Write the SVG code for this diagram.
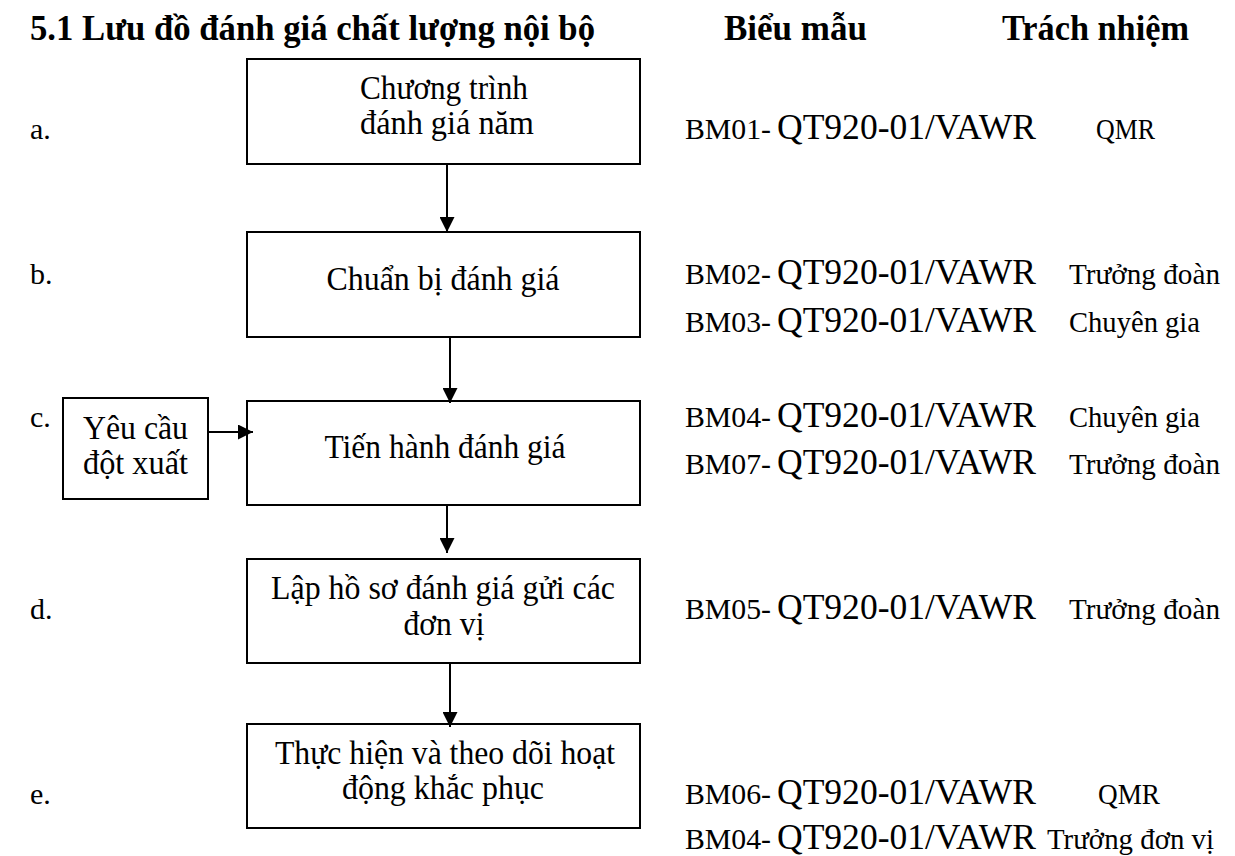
<svg xmlns="http://www.w3.org/2000/svg" width="1235" height="856" viewBox="0 0 1235 856">
<style>
text{font-family:"Liberation Serif","Times New Roman",serif;fill:#000}
.h{font-weight:bold;font-size:36px}
.t{font-size:33px;text-anchor:middle}
.lab{font-size:30px}
.bm{font-size:30px}
.qt{font-size:36px}
.box{fill:#fff;stroke:#000;stroke-width:2}
.con{stroke:#000;stroke-width:2;fill:none}
</style>
<defs>
<marker id="arr" viewBox="0 0 15 15" refX="15" refY="7.5" markerWidth="15" markerHeight="15" markerUnits="userSpaceOnUse" orient="auto">
<path d="M0,0 L15,7.5 L0,15 Z" fill="#000"/>
</marker>
</defs>
<rect width="1235" height="856" fill="#fff"/>
<g id="headers">
<text class="h" x="30" y="40" textLength="565" lengthAdjust="spacingAndGlyphs">5.1 Lưu đồ đánh giá chất lượng nội bộ</text>
<text class="h" x="724" y="40" textLength="143" lengthAdjust="spacingAndGlyphs">Biểu mẫu</text>
<text class="h" x="1002" y="40" textLength="187" lengthAdjust="spacingAndGlyphs">Trách nhiệm</text>
</g>
<g id="step-labels">
<text class="lab" x="30" y="139">a.</text>
<text class="lab" x="30" y="284">b.</text>
<text class="lab" x="30" y="427">c.</text>
<text class="lab" x="30" y="619">d.</text>
<text class="lab" x="30" y="804">e.</text>
</g>
<g id="node-a">
<rect class="box" x="247" y="59" width="393" height="105"/>
<text class="t" x="444" y="99" textLength="168" lengthAdjust="spacingAndGlyphs">Chương trình</text>
<text class="t" x="447" y="134" textLength="174" lengthAdjust="spacingAndGlyphs">đánh giá năm</text>
</g>
<g id="node-b">
<rect class="box" x="247" y="232" width="393" height="105"/>
<text class="t" x="443" y="290" textLength="233" lengthAdjust="spacingAndGlyphs">Chuẩn bị đánh giá</text>
</g>
<g id="node-yeucau">
<rect class="box" x="63" y="398" width="145" height="101"/>
<text class="t" x="135.5" y="439" textLength="105" lengthAdjust="spacingAndGlyphs">Yêu cầu</text>
<text class="t" x="135.5" y="474" textLength="105" lengthAdjust="spacingAndGlyphs">đột xuất</text>
</g>
<g id="node-c">
<rect class="box" x="247" y="401" width="393" height="104"/>
<text class="t" x="445" y="458" textLength="241" lengthAdjust="spacingAndGlyphs">Tiến hành đánh giá</text>
</g>
<g id="node-d">
<rect class="box" x="247" y="559" width="393" height="104"/>
<text class="t" x="443" y="599" textLength="344" lengthAdjust="spacingAndGlyphs">Lập hồ sơ đánh giá gửi các</text>
<text class="t" x="444" y="635" textLength="81" lengthAdjust="spacingAndGlyphs">đơn vị</text>
</g>
<g id="node-e">
<rect class="box" x="247" y="724" width="393" height="104"/>
<text class="t" x="445" y="764" textLength="340" lengthAdjust="spacingAndGlyphs">Thực hiện và theo dõi hoạt</text>
<text class="t" x="443" y="799" textLength="202" lengthAdjust="spacingAndGlyphs">động khắc phục</text>
</g>
<g id="connectors">
<line class="con" x1="447" y1="164" x2="447" y2="232" marker-end="url(#arr)"/>
<line class="con" x1="450" y1="337" x2="450" y2="403" marker-end="url(#arr)"/>
<line class="con" x1="208" y1="432" x2="253" y2="432" marker-end="url(#arr)"/>
<line class="con" x1="447" y1="505" x2="447" y2="553" marker-end="url(#arr)"/>
<line class="con" x1="450" y1="663" x2="450" y2="727" marker-end="url(#arr)"/>
</g>
<g id="forms">
<text class="bm" x="685" y="139" textLength="86" lengthAdjust="spacingAndGlyphs">BM01-</text>
<text class="qt" x="777" y="139" textLength="259" lengthAdjust="spacingAndGlyphs">QT920-01/VAWR</text>
<text class="bm" x="685" y="284" textLength="86" lengthAdjust="spacingAndGlyphs">BM02-</text>
<text class="qt" x="777" y="284" textLength="259" lengthAdjust="spacingAndGlyphs">QT920-01/VAWR</text>
<text class="bm" x="685" y="332" textLength="86" lengthAdjust="spacingAndGlyphs">BM03-</text>
<text class="qt" x="777" y="332" textLength="259" lengthAdjust="spacingAndGlyphs">QT920-01/VAWR</text>
<text class="bm" x="685" y="427" textLength="86" lengthAdjust="spacingAndGlyphs">BM04-</text>
<text class="qt" x="777" y="427" textLength="259" lengthAdjust="spacingAndGlyphs">QT920-01/VAWR</text>
<text class="bm" x="685" y="474" textLength="86" lengthAdjust="spacingAndGlyphs">BM07-</text>
<text class="qt" x="777" y="474" textLength="259" lengthAdjust="spacingAndGlyphs">QT920-01/VAWR</text>
<text class="bm" x="685" y="619" textLength="86" lengthAdjust="spacingAndGlyphs">BM05-</text>
<text class="qt" x="777" y="619" textLength="259" lengthAdjust="spacingAndGlyphs">QT920-01/VAWR</text>
<text class="bm" x="685" y="804" textLength="86" lengthAdjust="spacingAndGlyphs">BM06-</text>
<text class="qt" x="777" y="804" textLength="259" lengthAdjust="spacingAndGlyphs">QT920-01/VAWR</text>
<text class="bm" x="685" y="849" textLength="86" lengthAdjust="spacingAndGlyphs">BM04-</text>
<text class="qt" x="777" y="849" textLength="259" lengthAdjust="spacingAndGlyphs">QT920-01/VAWR</text>
</g>
<g id="responsibility">
<text class="bm" x="1096" y="139" textLength="59" lengthAdjust="spacingAndGlyphs">QMR</text>
<text class="bm" x="1069" y="284" textLength="151" lengthAdjust="spacingAndGlyphs">Trưởng đoàn</text>
<text class="bm" x="1069" y="332" textLength="131" lengthAdjust="spacingAndGlyphs">Chuyên gia</text>
<text class="bm" x="1069" y="427" textLength="131" lengthAdjust="spacingAndGlyphs">Chuyên gia</text>
<text class="bm" x="1069" y="474" textLength="151" lengthAdjust="spacingAndGlyphs">Trưởng đoàn</text>
<text class="bm" x="1069" y="619" textLength="151" lengthAdjust="spacingAndGlyphs">Trưởng đoàn</text>
<text class="bm" x="1098" y="804" textLength="62" lengthAdjust="spacingAndGlyphs">QMR</text>
<text class="bm" x="1047" y="849" textLength="167" lengthAdjust="spacingAndGlyphs">Trưởng đơn vị</text>
</g>
</svg>
